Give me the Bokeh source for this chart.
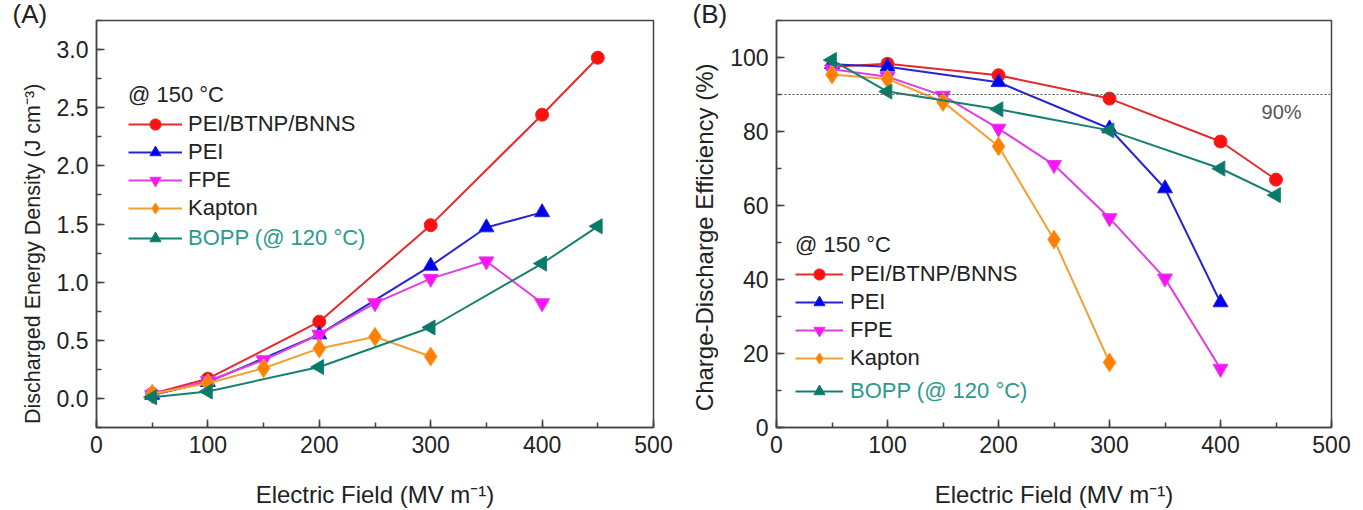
import math
from bokeh.plotting import figure
from bokeh.layouts import row
from bokeh.models import (SingleIntervalTicker, Legend, LegendItem, Label, Span, Range1d,
                          PrintfTickFormatter, Title)
from bokeh.embed import file_html
from bokeh.resources import INLINE

# ---------------- data ----------------
series_names = ["PEI/BTNP/BNNS", "PEI", "FPE", "Kapton", "BOPP (@ 120 °C)"]

# Panel A: discharged energy density (J cm^-3)
a_bnns_x = [50, 100, 200, 300, 400, 450]
a_bnns_y = [0.04, 0.17, 0.66, 1.49, 2.44, 2.93]
a_pei_x = [50, 100, 200, 300, 350, 400]
a_pei_y = [0.03, 0.14, 0.55, 1.14, 1.47, 1.60]
a_fpe_x = [50, 100, 150, 200, 250, 300, 350, 400]
a_fpe_y = [0.03, 0.15, 0.33, 0.55, 0.82, 1.03, 1.18, 0.82]
a_kap_x = [50, 100, 150, 200, 250, 300]
a_kap_y = [0.04, 0.13, 0.26, 0.43, 0.53, 0.36]
a_bopp_x = [50, 100, 200, 300, 400, 450]
a_bopp_y = [0.01, 0.06, 0.27, 0.61, 1.16, 1.48]

# Panel B: charge-discharge efficiency (%)
b_bnns_x = [50, 100, 200, 300, 400, 450]
b_bnns_y = [97.5, 98.3, 95.2, 88.9, 77.3, 67.0]
b_pei_x = [50, 100, 200, 300, 350, 400]
b_pei_y = [98.2, 97.5, 93.3, 80.8, 64.6, 33.8]
b_fpe_x = [50, 100, 150, 200, 250, 300, 350, 400]
b_fpe_y = [96.8, 94.8, 89.7, 80.8, 71.0, 56.6, 40.3, 15.9]
b_kap_x = [50, 100, 150, 200, 250, 300]
b_kap_y = [95.4, 94.2, 88.0, 76.0, 50.8, 17.6]
b_bopp_x = [50, 100, 200, 300, 400, 450]
b_bopp_y = [99.3, 90.8, 86.0, 80.3, 70.0, 62.8]

threshold = 90
threshold_label = "90%"
panel_labels = ["(A)", "(B)"]

line_colors = ["#E42A2A", "#2626CF", "#E03FE0", "#F2A033", "#15806F"]
fill_colors = ["#FF1010", "#0000F0", "#FF10FF", "#FF8000", "#0A7A68"]
markers = ["circle", "triangle", "inverted_triangle", "diamond", "triangle"]
angles = [0, 0, 0, 0, math.pi / 2]
sizes = [13, 15, 15, 19, 15]

FONT = "Liberation Sans"


def style(p, ylabel, ysize, pad, y_interval, fmt_dec):
    p.xaxis.ticker = SingleIntervalTicker(interval=100, num_minor_ticks=2)
    p.yaxis.ticker = SingleIntervalTicker(interval=y_interval, num_minor_ticks=2)
    for ax in (p.xaxis[0], p.yaxis[0]):
        ax.major_tick_in = 8
        ax.major_tick_out = 0
        ax.minor_tick_in = 5
        ax.minor_tick_out = 0
        ax.axis_line_color = "#444444"
        ax.axis_line_width = 1.5
        ax.major_tick_line_color = "#444444"
        ax.minor_tick_line_color = "#444444"
        ax.major_tick_line_width = 1.5
        ax.minor_tick_line_width = 1.5
        ax.major_label_text_font = FONT
        ax.major_label_text_font_size = "23px"
        ax.major_label_text_color = "#222222"
        ax.major_label_standoff = 8
        ax.axis_label_text_font = FONT
        ax.axis_label_text_font_size = "24px"
        ax.axis_label_text_font_style = "normal"
        ax.axis_label_text_color = "#222222"
    p.xaxis.axis_label = "Electric Field (MV m\u207b\u00b9)"
    p.yaxis.axis_label = ylabel + "\u00a0" * pad
    p.yaxis.axis_label_text_font_size = ysize
    p.xaxis.axis_label_standoff = 25
    p.yaxis.axis_label_standoff = 9
    if fmt_dec:
        p.yaxis.formatter = PrintfTickFormatter(format="%.1f")
    p.xgrid.visible = False
    p.ygrid.visible = False
    p.outline_line_color = "#444444"
    p.outline_line_width = 1.5
    p.background_fill_color = "white"
    p.border_fill_color = "white"


def draw(p, data):
    items = []
    for i, (xs, ys) in enumerate(data):
        lr = p.line(xs, ys, line_color=line_colors[i], line_width=2)
        sr = p.scatter(xs, ys, marker=markers[i], size=sizes[i], angle=angles[i],
                       fill_color=fill_colors[i], line_color=line_colors[i], line_width=1)
        items.append(LegendItem(label=series_names[i], renderers=[lr, sr]))
    return items


def add_legends(p, items, x, y_main, y_bopp, glyph_w, standoff):
    common = dict(background_fill_alpha=0, border_line_alpha=0, padding=0, margin=0,
                  glyph_width=glyph_w, glyph_height=28, label_height=28, spacing=0,
                  label_standoff=standoff, label_text_font=FONT,
                  label_text_font_size="22px")
    lg1 = Legend(items=items[:4], location=(x, y_main), title="@ 150 °C",
                 title_text_font=FONT, title_text_font_size="22px",
                 title_text_font_style="normal", title_text_color="#222222",
                 title_standoff=2, label_text_color="#222222", **common)
    lg2 = Legend(items=items[4:], location=(x, y_bopp), label_text_color="#2A9A8E", **common)
    p.add_layout(lg1, "center")
    p.add_layout(lg2, "center")


def panel_title(text):
    return Title(text=text, align="left", offset=-84, standoff=-16, text_font=FONT,
                 text_font_size="26px", text_font_style="normal", text_color="#222222",
                 vertical_align="bottom")


H = 510

# ---------------- panel A ----------------
pA = figure(width=680, height=H, output_backend="svg", toolbar_location=None,
            x_range=Range1d(0, 500), y_range=Range1d(-0.25, 3.25),
            title=panel_title(panel_labels[0]),
            min_border_left=96, min_border_right=27, min_border_top=20, min_border_bottom=82)
style(pA, "Discharged Energy Density (J cm\u207b\u00b3)", "21.5px", 10, 0.5, True)
itemsA = draw(pA, [(a_bnns_x, a_bnns_y), (a_pei_x, a_pei_y), (a_fpe_x, a_fpe_y),
                   (a_kap_x, a_kap_y), (a_bopp_x, a_bopp_y)])
add_legends(pA, itemsA, 32, 205, 175, 54, 6)

# ---------------- panel B ----------------
pB = figure(width=683, height=H, output_backend="svg", toolbar_location=None,
            x_range=Range1d(0, 500), y_range=Range1d(0, 110),
            title=panel_title(panel_labels[1]),
            min_border_left=96, min_border_right=32, min_border_top=20, min_border_bottom=82)
style(pB, "Charge-Discharge Efficiency (%)", "24px", 4, 20, False)
pB.add_layout(Span(location=threshold, dimension="width", line_color="#555555",
                   line_width=1, line_dash="2 2"))
itemsB = draw(pB, [(b_bnns_x, b_bnns_y), (b_pei_x, b_pei_y), (b_fpe_x, b_fpe_y),
                   (b_kap_x, b_kap_y), (b_bopp_x, b_bopp_y)])
add_legends(pB, itemsB, 19, 55, 22, 48, 7)
pB.add_layout(Label(x=455, y=85.4, text=threshold_label, text_font=FONT,
                    text_font_size="20px", text_align="center", text_baseline="middle",
                    text_color="#555555"))

layout = row(pA, pB)
open("out.html", "w").write(file_html(layout, INLINE))
